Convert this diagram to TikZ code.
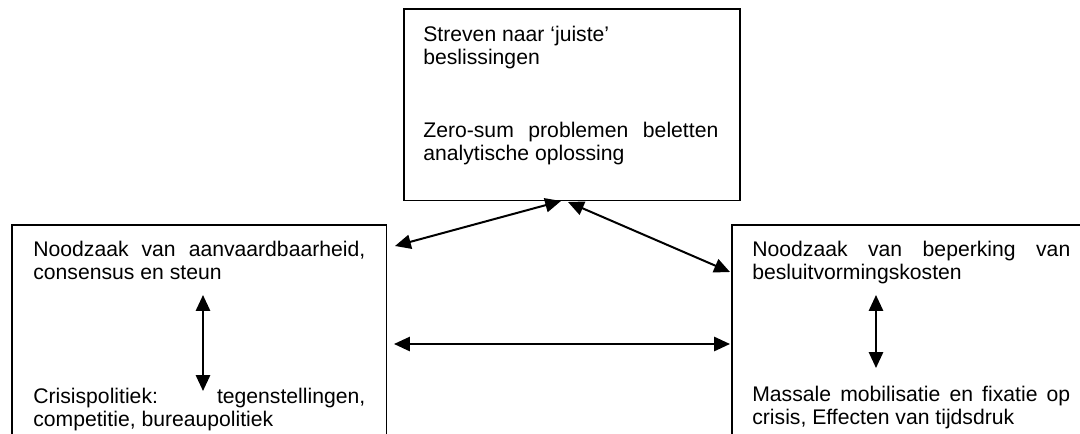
\documentclass[tikz,border=0pt]{standalone}
\usepackage{fontspec}
\setmainfont{Liberation Sans}
\usetikzlibrary{arrows.meta}

\begin{document}
\begin{tikzpicture}[x=0.6pt, y=-0.6pt, font=\fontsize{12.7}{13.8}\selectfont,
  kader/.style={draw, line width=0.9pt, anchor=north west, inner sep=0pt},
  tekst/.style={anchor=north west, inner sep=0pt, text width=#1, align=justify},
  pijl/.style={line width=1.2pt, {Triangle[length=9.5pt,width=8.5pt]}-{Triangle[length=9.5pt,width=8.5pt]}}]
\useasboundingbox (0,0) rectangle (1080,434);
\clip (0,0) rectangle (1080,434);
\node[kader, minimum width=201.6pt, minimum height=115.2pt] (doel) at (403,8) {};
\node[kader, minimum width=225pt, minimum height=150pt] (links) at (11,224) {};
\node[kader, minimum width=218.4pt, minimum height=150pt] (rechts) at (731,224) {};
\node[tekst=177pt] (doelboven) at (423,26) {Streven naar ‘juiste’\\beslissingen};
\node[tekst=177pt] (doelonder) at (423,122) {Zero-sum problemen beletten\linebreak analytische oplossing};
\node[tekst=199.2pt] (linksboven) at (33,241) {Noodzaak van aanvaardbaarheid,\linebreak consensus en steun};
\node[tekst=199.2pt] (linksonder) at (33,388) {Crisispolitiek: tegenstellingen,\linebreak competitie, bureaupolitiek};
\node[tekst=190.8pt] (rechtsboven) at (752,241) {Noodzaak van beperking van\linebreak besluitvormingskosten};
\node[tekst=190.8pt] (rechtsonder) at (752,386) {Massale mobilisatie en fixatie op\linebreak crisis, Effecten van tijdsdruk};
\coordinate (l1) at (395,246);
\coordinate (d1) at (561,201);
\coordinate (d2) at (568,202);
\coordinate (r1) at (730,272);
\coordinate (l2) at (394,344);
\coordinate (r2) at (730,344);
\coordinate (lb) at (203,295);
\coordinate (lo) at (203,391);
\coordinate (rb) at (876,295);
\coordinate (ro) at (876,368);
\draw[pijl] (l1) -- (d1);
\draw[pijl] (d2) -- (r1);
\draw[pijl] (l2) -- (r2);
\draw[pijl] (lb) -- (lo);
\draw[pijl] (rb) -- (ro);
\end{tikzpicture}
\end{document}
